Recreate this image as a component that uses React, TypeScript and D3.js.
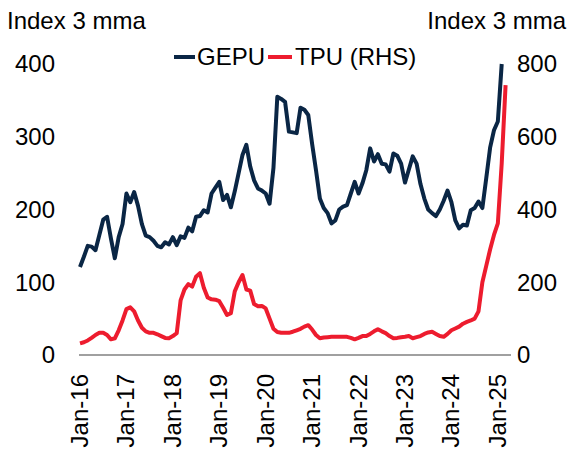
import React from 'react';
import {scaleLinear, line} from 'd3';

// monthly values, Jan-16 onwards
const gepu = [121,135,150,149,144,165,186,190,160,133,162,180,
  222,210,224,205,180,164,162,157,150,148,155,152,
  162,151,163,161,175,170,190,191,199,196,222,230,
  238,213,220,203,225,250,275,289,259,240,229,226,
  222,208,257,355,352,348,307,306,305,340,337,330,
  290,254,215,202,195,181,185,200,204,206,222,238,
  222,236,254,284,266,276,263,262,252,277,274,263,
  237,255,273,263,235,215,200,195,191,200,212,226,
  210,185,174,179,178,199,202,211,202,243,285,309,
  321,400];

const tpu = [32,35,40,47,55,61,61,55,43,46,68,95,
  126,131,120,95,75,65,61,61,57,52,47,46,
  52,60,150,180,195,188,215,225,185,158,153,152,
  148,130,110,115,175,200,220,180,177,140,134,135,
  128,100,72,63,61,61,61,64,68,72,78,82,
  70,55,46,48,49,50,50,50,50,50,47,43,
  47,52,52,58,65,71,65,60,52,46,47,49,
  50,52,46,49,52,58,62,64,58,52,50,58,
  68,73,78,86,91,95,100,120,200,245,290,330,
  362,527,742];

const yearLabels = ['Jan-16','Jan-17','Jan-18','Jan-19','Jan-20','Jan-21','Jan-22','Jan-23','Jan-24','Jan-25'];
const leftTicks = [0,100,200,300,400];
const rightTicks = [0,200,400,600,800];

const NAVY = '#0a2645';
const RED = '#ed1c2e';
const FONT = 'Liberation Sans, Arial, sans-serif';

export default function App(){
  const width = 573, height = 450;
  const x = scaleLinear().domain([0, 111.4]).range([80, 511]);
  const yL = scaleLinear().domain([0, 400]).range([355, 64]);
  const yR = scaleLinear().domain([0, 800]).range([355, 64]);

  const lineL = line<number>().x((d,i)=>x(i)).y(d=>yL(Math.min(d,400)));
  const lineR = line<number>().x((d,i)=>x(i)).y(d=>yR(d));

  const fs = 24;

  return (
    <svg width={width} height={height} style={{position:'absolute',left:0,top:0,background:'#fff'}} fontFamily={FONT}>
      <text x={7} y={29} fontSize={fs} fill="#000">Index 3 mma</text>
      <text x={566} y={29} fontSize={fs} fill="#000" textAnchor="end">Index 3 mma</text>

      {leftTicks.map(t=>(
        <text key={'l'+t} x={55} y={yL(t)} dy="0.35em" fontSize={fs} textAnchor="end" fill="#000">{t}</text>
      ))}
      {rightTicks.map(t=>(
        <text key={'r'+t} x={517} y={yR(t)} dy="0.35em" fontSize={fs} textAnchor="start" fill="#000">{t}</text>
      ))}

      <line x1={79} x2={511} y1={355} y2={355} stroke="#808080" strokeWidth={1.6}/>

      {yearLabels.map((lab,i)=>(
        <text key={lab} transform={`translate(${x(i*12)+8},374) rotate(-90)`} fontSize={fs} textAnchor="end" fill="#000">{lab}</text>
      ))}

      <path d={lineR(tpu) || ''} fill="none" stroke={RED} strokeWidth={4} strokeLinejoin="round"/>
      <path d={lineL(gepu) || ''} fill="none" stroke={NAVY} strokeWidth={4} strokeLinejoin="round"/>

      {/* legend */}
      <line x1={174} x2={195} y1={57} y2={57} stroke={NAVY} strokeWidth={4}/>
      <text x={197} y={57} dy="0.35em" fontSize={fs} fill="#000">GEPU</text>
      <line x1={268} x2={292} y1={57} y2={57} stroke={RED} strokeWidth={4}/>
      <text x={295} y={57} dy="0.35em" fontSize={fs} fill="#000">TPU (RHS)</text>
    </svg>
  );
}
